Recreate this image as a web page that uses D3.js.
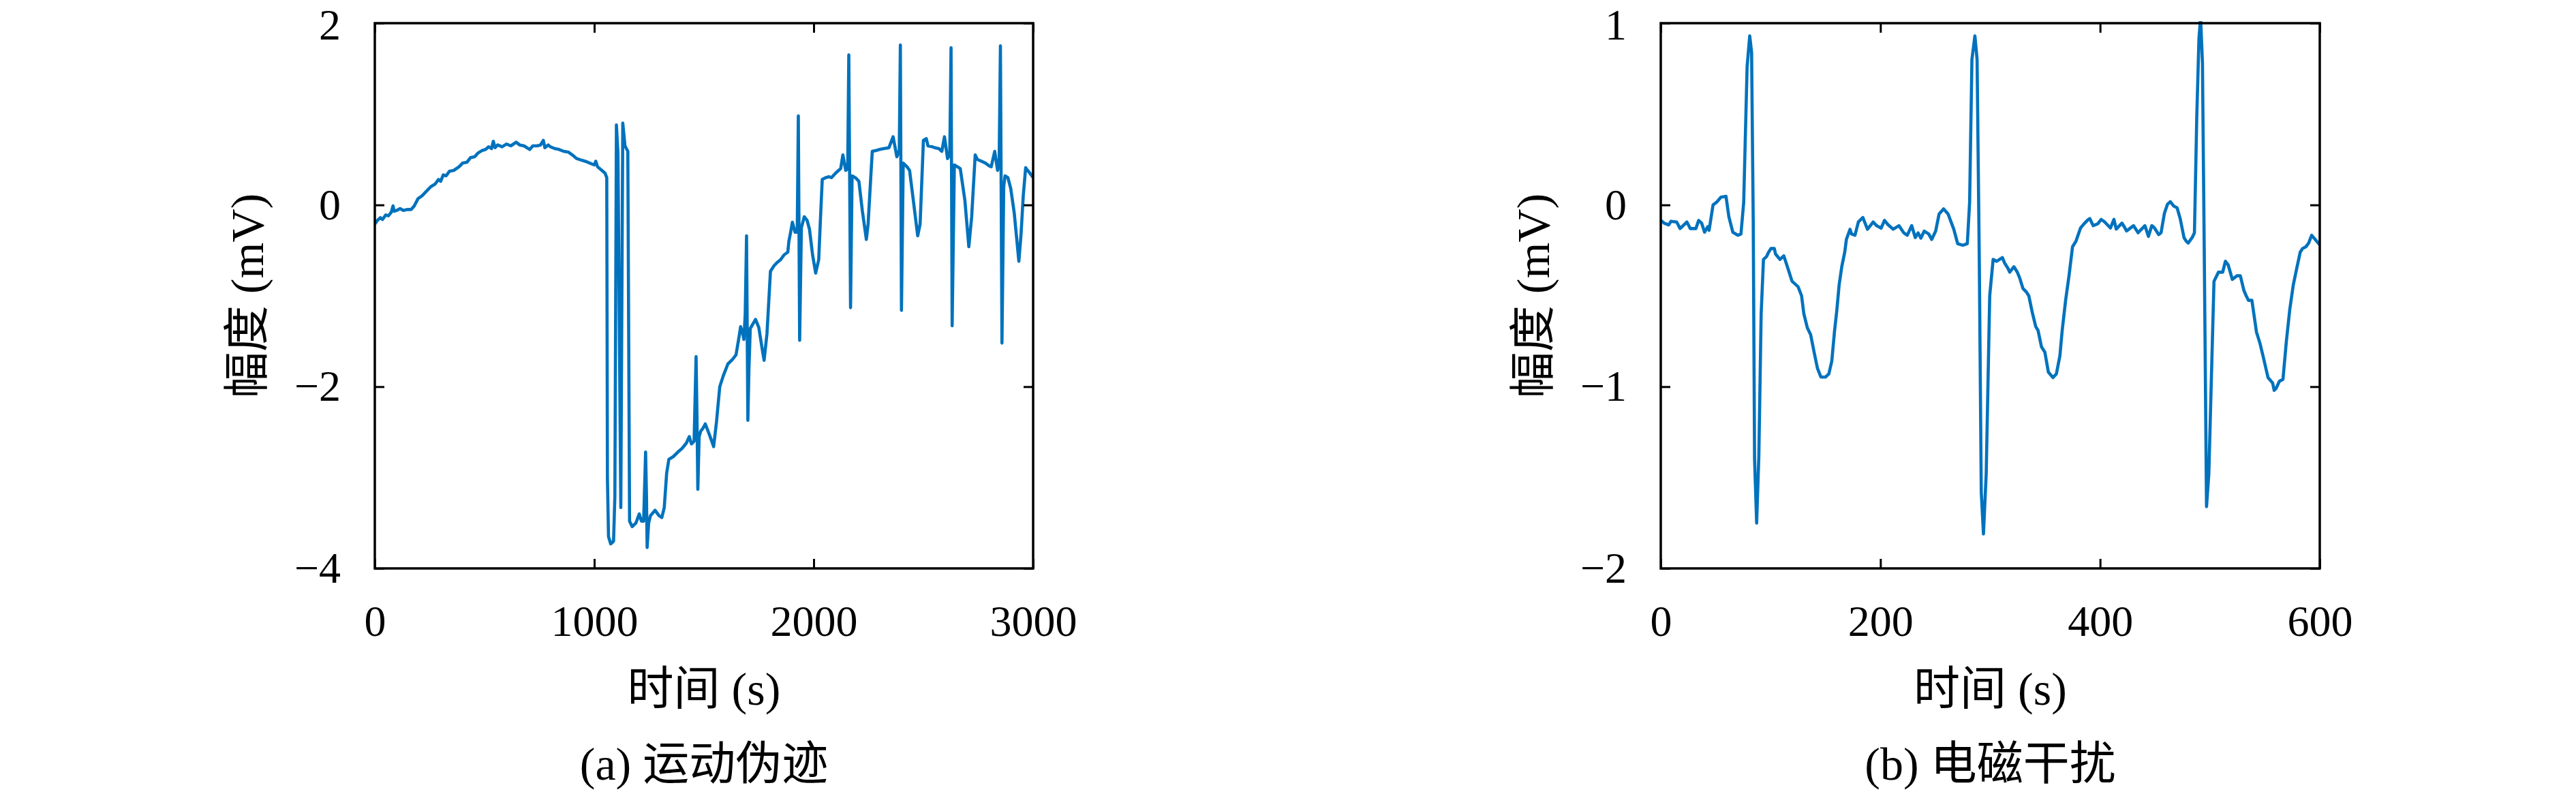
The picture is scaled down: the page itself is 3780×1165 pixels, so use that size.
<!DOCTYPE html>
<html>
<head>
<meta charset="utf-8">
<script src="https://cdn.jsdelivr.net/npm/d3@7"></script>
<style>
  html, body { margin: 0; padding: 0; background: #fff; }
  svg text { font-family: "Liberation Serif", "Noto Sans CJK SC", serif; fill: #000; }
</style>
</head>
<body>
<svg id="chart" width="3780" height="1165"></svg>
<script>
// ---------- DATA ----------
// (a) 运动伪迹 — motion artefact
const motionTime = [0,12,25,35,50,62,75,83,88,100,115,130,150,166,180,197,215,235,255,275,290,300,312,325,340,360,384,400,420,436,455,470,490,505,519,532,540,548,560,580,600,620,644,660,680,706,720,740,755,768,775,790,800,820,840,860,883,900,920,945,960,980,1000,1007,1015,1030,1049,1057,1060,1065,1075,1088,1094,1101,1108,1121,1130,1140,1153,1161,1173,1190,1205,1215,1225,1234,1238,1241,1248,1256,1277,1295,1308,1319,1330,1340,1360,1381,1400,1420,1433,1443,1455,1464,1468,1472,1478,1485,1495,1506,1525,1544,1557,1572,1588,1609,1630,1646,1660,1667,1675,1682,1688,1694,1700,1705,1711,1735,1750,1765,1774,1787,1803,1819,1835,1850,1865,1882,1887,1895,1903,1915,1925,1930,1936,1944,1957,1970,1981,1995,2009,2023,2030,2039,2054,2070,2081,2100,2123,2133,2146,2155,2160,2168,2175,2190,2206,2222,2240,2248,2260,2267,2285,2301,2320,2343,2362,2379,2390,2395,2400,2408,2425,2437,2453,2474,2485,2500,2513,2521,2540,2552,2570,2584,2596,2610,2620,2626,2631,2641,2655,2668,2689,2707,2720,2736,2746,2765,2783,2800,2809,2825,2838,2845,2851,2858,2866,2872,2885,2898,2914,2935,2945,2955,2966,2975,2982,3000];
const motionAmp  = [-0.21,-0.17,-0.14,-0.16,-0.11,-0.12,-0.08,-0.01,-0.07,-0.06,-0.04,-0.06,-0.05,-0.05,-0.01,0.07,0.10,0.15,0.20,0.23,0.28,0.26,0.33,0.32,0.37,0.38,0.42,0.46,0.47,0.52,0.53,0.57,0.60,0.61,0.64,0.62,0.70,0.63,0.66,0.64,0.67,0.65,0.69,0.66,0.65,0.61,0.65,0.65,0.66,0.71,0.63,0.66,0.64,0.62,0.61,0.59,0.58,0.55,0.51,0.49,0.48,0.46,0.44,0.48,0.42,0.39,0.35,0.30,-3.0,-3.65,-3.73,-3.70,-3.2,0.88,0.57,-3.33,0.90,0.65,0.59,-3.48,-3.54,-3.50,-3.40,-3.48,-3.48,-2.72,-3.2,-3.77,-3.50,-3.42,-3.36,-3.42,-3.44,-3.33,-2.95,-2.80,-2.77,-2.72,-2.68,-2.62,-2.55,-2.63,-2.60,-1.67,-2.3,-3.13,-2.55,-2.49,-2.46,-2.41,-2.53,-2.66,-2.39,-2.00,-1.88,-1.75,-1.70,-1.65,-1.45,-1.34,-1.40,-1.48,-1.2,-0.34,-2.37,-1.8,-1.36,-1.26,-1.35,-1.58,-1.71,-1.42,-0.73,-0.67,-0.63,-0.60,-0.55,-0.52,-0.40,-0.30,-0.19,-0.30,-0.3,0.98,-1.49,-0.25,-0.13,-0.17,-0.27,-0.55,-0.75,-0.60,-0.2,0.28,0.30,0.31,0.30,0.35,0.40,0.55,0.38,0.4,1.65,-1.13,0.32,0.30,0.26,-0.07,-0.38,-0.21,0.3,0.59,0.60,0.61,0.62,0.63,0.75,0.53,0.6,1.76,-1.16,0.46,0.42,0.38,0.07,-0.34,-0.21,0.71,0.73,0.65,0.64,0.63,0.62,0.59,0.75,0.51,0.55,1.73,-1.33,0.44,0.42,0.40,0.05,-0.46,-0.13,0.55,0.50,0.48,0.46,0.43,0.42,0.59,0.38,0.45,1.75,-1.52,0.2,0.32,0.30,0.18,-0.09,-0.62,-0.32,0.1,0.41,0.38,0.36,0.30];

// (b) 电磁干扰 — electromagnetic interference
const emiTime = [0,3,7.2,9.3,14.5,17.6,23.8,26.9,32,34.5,37.2,39.9,42.8,44,47.6,50.7,54.8,59.4,62,65.6,70.3,73,75.5,78.6,81,82.7,84.2,85.4,87.3,89.3,91.4,93.5,96.2,98.2,100.3,103.4,104.5,108.6,112,115.8,119.5,125,128.2,130.3,133.4,136.5,139.6,142.7,145.8,150,153,155.7,158.2,160.3,162.4,164.8,167.5,169,172.3,173.7,176.8,179.9,184,188.2,193.4,196.5,200.6,203.7,206.8,211.6,216.8,221.3,224.4,228.5,231.7,234.3,236.8,239.9,244,246.7,250.3,253.4,257.5,261.6,266.8,270.3,275,279.1,281.2,283.3,286,288,290,291.8,293.8,296.3,299.5,302.6,305.8,311,313.1,316.2,317.7,321.5,324.6,326.7,329.8,333,335.1,338.2,341.4,343.5,346.6,349.7,352.9,357.1,360.2,363.4,365.5,368.6,371.7,374.9,378,382.2,386,388.5,390.6,393.7,397.9,401,404.2,409.4,412.6,414.7,419.9,422,424.1,430.4,434.6,440.8,444,447.1,449.2,453.4,455.5,458.6,461.4,463.9,467,470.1,472.9,476.4,478.5,480.2,483.8,485.9,488,490,491.5,493.2,494.9,496.9,499,501.6,503.7,507.8,511.6,514.1,516.6,520.4,524.6,527.7,530.9,533,535.1,538.2,542.4,545.5,548.7,552.9,557.1,558.5,560.2,563.3,566.5,569.6,572.7,575.9,579,582.2,584.3,587.4,589.9,592.6,595.8,600];
const emiAmp  = [-0.085,-0.10,-0.11,-0.09,-0.094,-0.13,-0.094,-0.13,-0.13,-0.085,-0.10,-0.15,-0.12,-0.14,0.0,0.014,0.043,0.047,-0.065,-0.15,-0.167,-0.16,0.014,0.76,0.93,0.84,-0.10,-1.40,-1.75,-1.38,-0.60,-0.30,-0.285,-0.26,-0.24,-0.24,-0.27,-0.30,-0.28,-0.35,-0.42,-0.45,-0.50,-0.60,-0.675,-0.715,-0.81,-0.90,-0.947,-0.947,-0.93,-0.86,-0.695,-0.58,-0.44,-0.34,-0.26,-0.19,-0.134,-0.16,-0.167,-0.094,-0.069,-0.134,-0.094,-0.114,-0.128,-0.085,-0.108,-0.134,-0.114,-0.154,-0.167,-0.114,-0.18,-0.154,-0.183,-0.144,-0.16,-0.19,-0.144,-0.05,-0.022,-0.05,-0.134,-0.213,-0.222,-0.213,0.014,0.80,0.93,0.80,-0.30,-1.58,-1.81,-1.48,-0.50,-0.30,-0.31,-0.29,-0.32,-0.35,-0.37,-0.34,-0.37,-0.40,-0.46,-0.48,-0.50,-0.59,-0.67,-0.69,-0.78,-0.81,-0.92,-0.95,-0.93,-0.83,-0.69,-0.525,-0.39,-0.23,-0.20,-0.127,-0.10,-0.084,-0.075,-0.114,-0.104,-0.08,-0.094,-0.127,-0.08,-0.133,-0.10,-0.12,-0.143,-0.114,-0.153,-0.114,-0.173,-0.114,-0.124,-0.163,-0.153,-0.045,0.004,0.018,-0.006,-0.016,-0.075,-0.18,-0.20,-0.21,-0.18,-0.153,0.48,0.915,1.03,0.78,-0.30,-1.66,-1.48,-0.89,-0.42,-0.37,-0.37,-0.31,-0.33,-0.41,-0.39,-0.39,-0.47,-0.50,-0.525,-0.525,-0.70,-0.76,-0.84,-0.95,-0.98,-1.02,-1.01,-0.97,-0.96,-0.75,-0.575,-0.44,-0.35,-0.26,-0.24,-0.23,-0.21,-0.167,-0.19,-0.22,-0.19];

const xTicksA = [0, 1000, 2000, 3000];
const yTicksA = [-4, -2, 0, 2];
const xTicksB = [0, 200, 400, 600];
const yTicksB = [-2, -1, 0, 1];

const xLabel = "时间 (s)";
const yLabel = "幅度 (mV)";
const captions = ["(a) 运动伪迹", "(b) 电磁干扰"];

// ---------- DRAW ----------
const svg = d3.select("#chart");
const TICK_FONT = 64;
const LABEL_FONT = 68;
const lineColor = "#0072BD";

const panels = [
  { left: 550, right: 1516, top: 34, bottom: 834, xDom: [0, 3000], yDom: [-4, 2],
    xt: xTicksA, yt: yTicksA, t: motionTime, v: motionAmp, cap: captions[0] },
  { left: 2437, right: 3404, top: 34, bottom: 834, xDom: [0, 600], yDom: [-2, 1],
    xt: xTicksB, yt: yTicksB, t: emiTime, v: emiAmp, cap: captions[1] }
];

const fmt = d => d3.format("d")(d).replace("-", "\u2212");

panels.forEach((p, i) => {
  const g = svg.append("g");
  const x = d3.scaleLinear().domain(p.xDom).range([p.left, p.right]);
  const y = d3.scaleLinear().domain(p.yDom).range([p.bottom, p.top]);
  const T = 14;

  const clipId = "clip" + i;
  g.append("clipPath").attr("id", clipId).append("rect")
    .attr("x", p.left).attr("y", p.top - 3)
    .attr("width", p.right - p.left).attr("height", p.bottom - p.top + 6);

  // data line
  const pts = p.t.map((t, k) => [t, p.v[k]]);
  g.append("path")
    .datum(pts)
    .attr("clip-path", `url(#${clipId})`)
    .attr("fill", "none")
    .attr("stroke", lineColor)
    .attr("stroke-width", 4.6)
    .attr("stroke-linejoin", "round")
    .attr("d", d3.line().x(d => x(d[0])).y(d => y(d[1])));

  // axes (inward ticks)
  const bottomAx = d3.axisBottom(x).tickValues(p.xt).tickSize(-T).tickPadding(54).tickFormat(fmt);
  const topAx = d3.axisTop(x).tickValues(p.xt).tickSize(-T).tickFormat("");
  const leftAx = d3.axisLeft(y).tickValues(p.yt).tickSize(-T).tickPadding(50).tickFormat(fmt);
  const rightAx = d3.axisRight(y).tickValues(p.yt).tickSize(-T).tickFormat("");

  const styleAxis = sel => {
    sel.select(".domain").remove();
    sel.selectAll(".tick line").attr("stroke", "#000").attr("stroke-width", 3);
    sel.selectAll(".tick text").attr("font-size", TICK_FONT)
      .attr("font-family", "Liberation Serif, serif").attr("fill", "#000");
  };
  g.append("g").attr("transform", `translate(0,${p.bottom})`).call(bottomAx).call(styleAxis);
  g.append("g").attr("transform", `translate(0,${p.top})`).call(topAx).call(styleAxis);
  const leftG = g.append("g").attr("transform", `translate(${p.left},0)`).call(leftAx).call(styleAxis);
  g.append("g").attr("transform", `translate(${p.right},0)`).call(rightAx).call(styleAxis);

  // keep the topmost tick label's box inside the page
  leftG.selectAll(".tick text").each(function () {
    const bb = this.getBoundingClientRect();
    if (bb.top < 1) {
      d3.select(this).attr("y", (+d3.select(this).attr("y") || 0) + (1 - bb.top));
    }
  });

  // frame
  g.append("rect")
    .attr("x", p.left).attr("y", p.top)
    .attr("width", p.right - p.left).attr("height", p.bottom - p.top)
    .attr("fill", "none").attr("stroke", "#000").attr("stroke-width", 3.5);

  const cx = (p.left + p.right) / 2;
  const cy = (p.top + p.bottom) / 2;

  // x label
  g.append("text").attr("x", cx).attr("y", 1010).attr("dy", "0.35em")
    .attr("text-anchor", "middle").attr("font-size", LABEL_FONT).text(xLabel);
  // y label
  g.append("text")
    .attr("transform", `translate(${p.left - 188},${cy}) rotate(-90)`)
    .attr("dy", "0.35em").attr("text-anchor", "middle").attr("font-size", LABEL_FONT).text(yLabel);
  // caption
  g.append("text").attr("x", cx).attr("y", 1120).attr("dy", "0.35em")
    .attr("text-anchor", "middle").attr("font-size", LABEL_FONT).text(p.cap);
});
</script>
</body>
</html>
